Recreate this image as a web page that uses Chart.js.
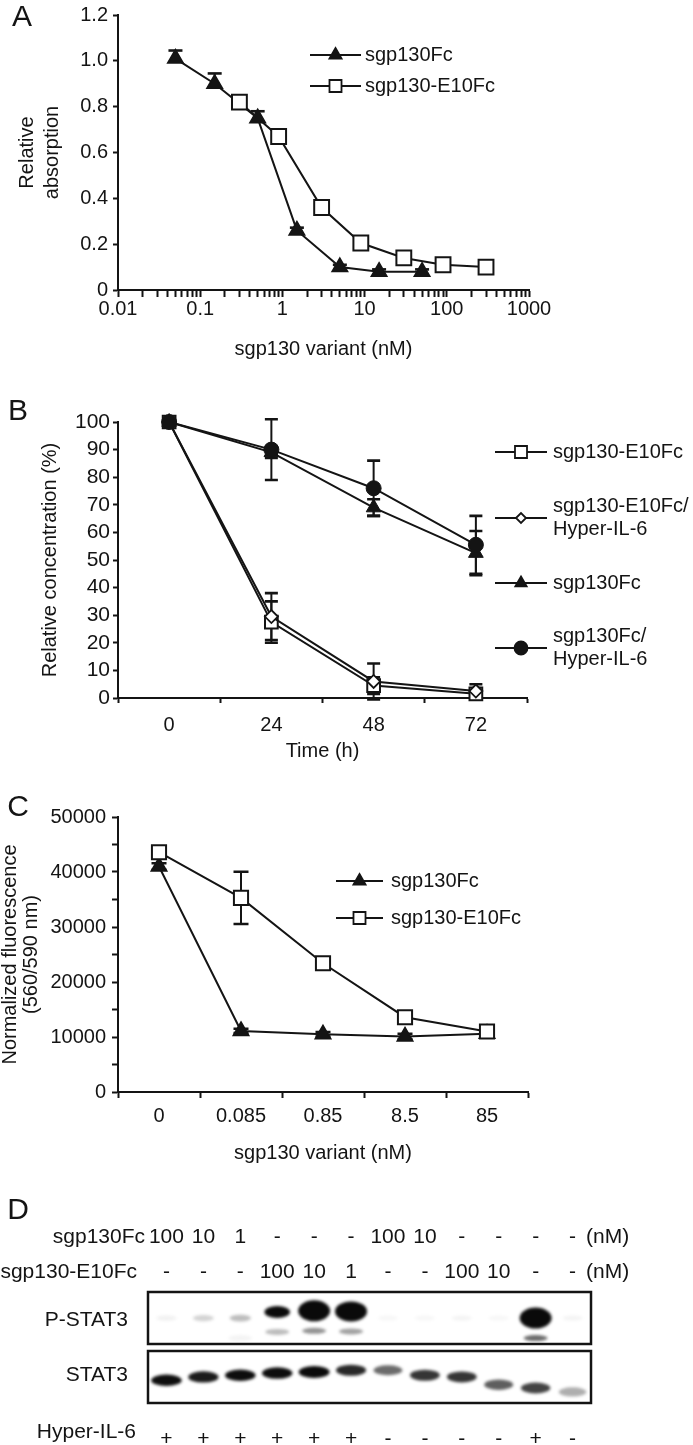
<!DOCTYPE html>
<html>
<head>
<meta charset="utf-8">
<title>sgp130 figure</title>
<script src="https://cdn.jsdelivr.net/npm/chart.js@4.4.1/dist/chart.umd.min.js"></script>
<style>
  html, body { margin: 0; padding: 0; background: #ffffff; }
  #page { position: relative; width: 693px; height: 1445px; overflow: hidden; background: #fff; }
  #page canvas { position: absolute; left: 0; }
</style>
</head>
<body>
<div id="page">
  <canvas id="chartA" width="693" height="380" style="top:0px;width:693px;height:380px"></canvas>
  <canvas id="chartB" width="693" height="400" style="top:380px;width:693px;height:400px"></canvas>
  <canvas id="chartC" width="693" height="400" style="top:780px;width:693px;height:400px"></canvas>
  <canvas id="chartD" width="693" height="265" style="top:1180px;width:693px;height:265px"></canvas>
</div>
<script>
// ================= DATA =================
// Panel A
const aSeriesNames = ['sgp130Fc', 'sgp130-E10Fc'];
const aFcX = [0.05, 0.15, 0.5, 1.5, 5, 15, 50];
const aFcY = [1.01, 0.90, 0.75, 0.26, 0.10, 0.08, 0.08];
const aFcErr = [0.035, 0.045, 0.03, 0.012, 0.01, 0.01, 0.01];
const aE10X = [0.3, 0.9, 3, 9, 30, 90, 300];
const aE10Y = [0.82, 0.67, 0.36, 0.205, 0.14, 0.11, 0.10];
const aE10Err = [0, 0, 0, 0, 0, 0, 0];
const aXTickValues = [0.01, 0.1, 1, 10, 100, 1000];
const aXTickLabels = ['0.01', '0.1', '1', '10', '100', '1000'];
const aYTickLabels = ['0', '0.2', '0.4', '0.6', '0.8', '1.0', '1.2'];
const aXTitle = 'sgp130 variant (nM)';
const aYTitle = ['Relative', 'absorption'];

// Panel B
const bTimes = ['0', '24', '48', '72'];
const bLegend = [['sgp130-E10Fc'], ['sgp130-E10Fc/', 'Hyper-IL-6'], ['sgp130Fc'], ['sgp130Fc/', 'Hyper-IL-6']];
const bE10 = [100, 27.5, 4.5, 1.5];
const bE10Err = [0, 7.5, 3, 1.5];
const bE10H = [100, 29.5, 6, 2.5];
const bE10HErr = [0, 8.5, 6.5, 2.5];
const bFc = [100, 89, 69, 52.5];
const bFcErr = [0, 2, 3, 8];
const bFcH = [100, 90, 76, 55.5];
const bFcHErr = [0, 11, 10, 10.5];
const bYTickLabels = ['0', '10', '20', '30', '40', '50', '60', '70', '80', '90', '100'];
const bXTitle = 'Time (h)';
const bYTitle = 'Relative concentration (%)';

// Panel C
const cDoses = ['0', '0.085', '0.85', '8.5', '85'];
const cSeriesNames = ['sgp130Fc', 'sgp130-E10Fc'];
const cFc = [41000, 11100, 10500, 10100, 10600];
const cFcErr = [600, 400, 400, 500, 300];
const cE10 = [43600, 35300, 23400, 13600, 11000];
const cE10Err = [500, 4750, 600, 500, 400];
const cYTickLabels = ['0', '10000', '20000', '30000', '40000', '50000'];
const cXTitle = 'sgp130 variant (nM)';
const cYTitle = ['Normalized fluorescence', '(560/590 nm)'];

// Panel D (western blot)
const dRowNames = ['sgp130Fc', 'sgp130-E10Fc', 'Hyper-IL-6'];
const dUnit = '(nM)';
const dFcDose  = ['100', '10', '1', '-', '-', '-', '100', '10', '-', '-', '-', '-'];
const dE10Dose = ['-', '-', '-', '100', '10', '1', '-', '-', '100', '10', '-', '-'];
const dHyper   = ['+', '+', '+', '+', '+', '+', '-', '-', '-', '-', '+', '-'];
const dBlots = ['P-STAT3', 'STAT3'];
const pStat3      = [0.04, 0.12, 0.18, 0.7, 1.6, 1.5, 0.02, 0.02, 0.03, 0.02, 1.6, 0.03];
const pStat3Lower = [0, 0, 0.04, 0.25, 0.4, 0.35, 0, 0, 0, 0, 0.55, 0];
const pStat3Shift = [-0.03, -0.03, -0.03, -0.14, -0.16, -0.15, -0.03, -0.03, -0.03, -0.03, -0.03, -0.03];
const stat3       = [0.9, 0.85, 0.9, 0.9, 1.0, 0.8, 0.55, 0.75, 0.75, 0.6, 0.7, 0.3];
const stat3Shift  = [0.09, 0.03, 0, -0.04, -0.06, -0.09, -0.09, 0, 0.03, 0.17, 0.23, 0.3];

// ================= STYLE / HELPERS =================
const FONT = '"Liberation Sans", Arial, Helvetica, sans-serif';
const INK = '#141414';
Chart.defaults.font.family = FONT;
Chart.defaults.font.size = 20;
Chart.defaults.color = INK;

function fitTo(size, horiz) {
  return (s) => {
    if (horiz) s.height = size; else s.width = size;
    s.paddingLeft = 0; s.paddingRight = 0; s.paddingTop = 0; s.paddingBottom = 0;
  };
}
function layoutFor(top, h, area, yw, xh) {
  return { autoPadding: false, padding: { left: area.l - yw, top: area.t - top, right: 693 - area.r, bottom: top + h - area.b - xh } };
}
function marker(ctx, style, x, y, r, fill, stroke, lw) {
  ctx.beginPath();
  if (style === 'triangle') {
    let a = 0;
    ctx.moveTo(x + Math.sin(a) * r, y - Math.cos(a) * r);
    a += 2 * Math.PI / 3; ctx.lineTo(x + Math.sin(a) * r, y - Math.cos(a) * r);
    a += 2 * Math.PI / 3; ctx.lineTo(x + Math.sin(a) * r, y - Math.cos(a) * r);
    ctx.closePath();
  } else if (style === 'rect') {
    const s = Math.SQRT1_2 * r; ctx.rect(x - s, y - s, 2 * s, 2 * s);
  } else if (style === 'rectRot') {
    ctx.moveTo(x - r, y); ctx.lineTo(x, y - r); ctx.lineTo(x + r, y); ctx.lineTo(x, y + r); ctx.closePath();
  } else {
    ctx.arc(x, y, r, 0, Math.PI * 2);
  }
  ctx.fillStyle = fill; ctx.fill();
  ctx.lineWidth = lw; ctx.strokeStyle = stroke; ctx.stroke();
}

const errorBars = {
  id: 'errorBars',
  beforeDatasetsDraw(chart, _a, o) {
    const ctx = chart.ctx;
    const cap = (o && o.cap) || 14;
    chart.data.datasets.forEach((ds, di) => {
      if (!ds.errors) return;
      const meta = chart.getDatasetMeta(di);
      const ys = chart.scales[meta.yAxisID];
      meta.data.forEach((pt, i) => {
        const e = ds.errors[i];
        if (!e) return;
        const raw = ds.data[i];
        const v = (typeof raw === 'object') ? raw.y : raw;
        const x = pt.x;
        const top = ys.getPixelForValue(v + e);
        const both = ds.errDir !== 'up';
        const bot = both ? ys.getPixelForValue(v - e) : pt.y;
        ctx.save();
        ctx.strokeStyle = INK; ctx.lineWidth = 2;
        ctx.beginPath(); ctx.moveTo(x, top); ctx.lineTo(x, bot); ctx.stroke();
        ctx.lineWidth = 2.6;
        ctx.beginPath(); ctx.moveTo(x - cap / 2, top); ctx.lineTo(x + cap / 2, top);
        if (both) { ctx.moveTo(x - cap / 2, bot); ctx.lineTo(x + cap / 2, bot); }
        ctx.stroke();
        ctx.restore();
      });
    });
  }
};

const lineLegend = {
  id: 'lineLegend',
  afterDraw(chart, _a, o) {
    if (!o || !o.rows) return;
    const ctx = chart.ctx;
    ctx.save();
    ctx.font = (o.size || 20) + 'px ' + FONT;
    ctx.textBaseline = 'middle'; ctx.textAlign = 'left';
    o.rows.forEach(row => {
      const ds = chart.data.datasets[row.ds];
      ctx.strokeStyle = INK; ctx.lineWidth = 2;
      ctx.beginPath(); ctx.moveTo(o.x0, row.y); ctx.lineTo(o.x1, row.y); ctx.stroke();
      marker(ctx, ds.pointStyle, (o.x0 + o.x1) / 2, row.y, row.r, ds.pointBackgroundColor, ds.pointBorderColor, 1.8);
      const lines = row.text;
      const lh = o.lh || 23;
      ctx.fillStyle = INK;
      lines.forEach((t, i) => ctx.fillText(t, o.tx, row.y + (i - (lines.length - 1) / 2) * lh));
    });
    ctx.restore();
  }
};

const panelLabel = {
  id: 'panelLabel',
  afterDraw(chart, _a, o) {
    if (!o || !o.text) return;
    const ctx = chart.ctx;
    ctx.save();
    ctx.font = (o.size || 30) + 'px ' + FONT;
    ctx.fillStyle = INK; ctx.textAlign = 'center'; ctx.textBaseline = 'middle';
    ctx.fillText(o.text, o.x, o.y);
    ctx.restore();
  }
};

function band(ctx, cx, cy, w, h, alpha) {
  if (alpha <= 0.005) return;
  ctx.fillStyle = 'rgba(10,10,10,' + Math.min(1, alpha) + ')';
  ctx.beginPath(); ctx.ellipse(cx, cy, w / 2, h / 2, 0, 0, Math.PI * 2); ctx.fill();
}

const blot = {
  id: 'blot',
  afterDraw(chart, _a, o) {
    if (!o || !o.on) return;
    const { ctx, chartArea: ca, scales: { x, y } } = chart;
    const rowH = (ca.bottom - ca.top) / 2;
    const mid = (ca.top + ca.bottom) / 2;
    const boxes = [[ca.top, mid - 3.5], [mid + 3.5, ca.bottom]];
    boxes.forEach(([t, b], r) => {
      ctx.save();
      ctx.beginPath(); ctx.rect(ca.left, t, ca.right - ca.left, b - t); ctx.clip();
      ctx.filter = 'blur(1.6px)';
      for (let i = 0; i < dHyper.length; i++) {
        const cx = x.getPixelForValue(i);
        if (r === 0) {
          const s = pStat3[i];
          const cy = y.getPixelForValue(0) + pStat3Shift[i] * rowH;
          band(ctx, cx, cy, 20 + 8 * Math.min(s, 1.5), 5 + 10 * Math.min(s, 1.6), s * 1.5);
          const s2 = pStat3Lower[i];
          band(ctx, cx, cy + 0.36 * rowH, 24, 6, s2 * 1.1);
        } else {
          const s = stat3[i];
          const cy = y.getPixelForValue(1) + stat3Shift[i] * rowH;
          band(ctx, cx, cy, 26 + 5 * s, 8 + 4 * s, s * 1.1);
        }
      }
      ctx.restore();
      ctx.save();
      ctx.lineWidth = 2.5; ctx.strokeStyle = INK;
      ctx.strokeRect(ca.left, t, ca.right - ca.left, b - t);
      ctx.restore();
    });
    // treatment rows
    ctx.save();
    ctx.font = '21px ' + FONT; ctx.fillStyle = INK; ctx.textBaseline = 'middle';
    ctx.textAlign = 'right';
    ctx.fillText(dRowNames[0], 145, 57);
    ctx.fillText(dRowNames[1], 137, 92);
    ctx.fillText(dRowNames[2], 136, 252);
    ctx.textAlign = 'center';
    dFcDose.forEach((t, i) => ctx.fillText(t, x.getPixelForValue(i), 57));
    dE10Dose.forEach((t, i) => ctx.fillText(t, x.getPixelForValue(i), 92));
    ctx.textAlign = 'left';
    ctx.fillText(dUnit, 586, 57);
    ctx.fillText(dUnit, 586, 92);
    ctx.restore();
  }
};

Chart.register(errorBars, lineLegend, panelLabel, blot);

const common = { responsive: false, maintainAspectRatio: false, animation: false, events: [] };
function tickGrid(len) {
  return { drawOnChartArea: false, drawTicks: true, tickLength: len, tickColor: INK, tickWidth: 2 };
}
const border = { display: true, color: INK, width: 2 };

// ================= PANEL A =================
const aMinor = [];
for (let d = 0; d < aXTickValues.length - 1; d++) {
  for (let k = 1; k <= 9; k++) aMinor.push(aXTickValues[d] * k);
}
aMinor.push(aXTickValues[aXTickValues.length - 1]);

new Chart(document.getElementById('chartA'), {
  type: 'line',
  data: {
    datasets: [
      { label: aSeriesNames[1], data: aE10X.map((x, i) => ({ x, y: aE10Y[i] })), errors: aE10Err, errDir: 'up',
        pointStyle: 'rect', pointRadius: 10.5, pointBackgroundColor: '#fff', pointBorderColor: INK, pointBorderWidth: 2,
        borderColor: INK, borderWidth: 2, clip: false },
      { label: aSeriesNames[0], data: aFcX.map((x, i) => ({ x, y: aFcY[i] })), errors: aFcErr, errDir: 'up',
        pointStyle: 'triangle', pointRadius: 9, pointBackgroundColor: INK, pointBorderColor: INK, pointBorderWidth: 1.5,
        borderColor: INK, borderWidth: 2, clip: false }
    ]
  },
  options: Object.assign({}, common, {
    layout: layoutFor(0, 380, { l: 118, t: 15, r: 529, b: 290 }, 118, 71),
    plugins: {
      legend: { display: false }, tooltip: { enabled: false },
      errorBars: { cap: 14 },
      panelLabel: { text: 'A', x: 22, y: 18 },
      lineLegend: { x0: 310, x1: 361, tx: 365, rows: [
        { ds: 1, y: 55, r: 7, text: [aSeriesNames[0]] },
        { ds: 0, y: 86, r: 8.5, text: [aSeriesNames[1]] }
      ] }
    },
    scales: {
      x: {
        type: 'logarithmic', min: 0.01, max: 1000,
        afterFit: fitTo(71, true),
        afterBuildTicks: (s) => { s.ticks = aMinor.map(v => ({ value: v })); },
        grid: tickGrid(7), border: border,
        ticks: { autoSkip: false, maxRotation: 0, minRotation: 0, padding: 0, color: INK,
          callback: (v) => { const i = aXTickValues.findIndex(t => Math.abs(t - v) < t * 1e-6); return i >= 0 ? aXTickLabels[i] : ''; } },
        title: { display: true, text: aXTitle, padding: 0, color: INK, font: { size: 20, lineHeight: 1.2 } }
      },
      y: {
        min: 0, max: 1.2,
        afterFit: fitTo(118, false),
        grid: tickGrid(5), border: border,
        ticks: { stepSize: 0.2, autoSkip: false, padding: 5, color: INK, callback: (v) => aYTickLabels[Math.round(v / 0.2)] },
        title: { display: true, text: aYTitle, padding: { top: 14.5, bottom: 0 }, color: INK, font: { size: 20, lineHeight: 1.25 } }
      }
    }
  })
});

// ================= PANEL B =================
new Chart(document.getElementById('chartB'), {
  type: 'line',
  data: {
    labels: bTimes,
    datasets: [
      { label: bLegend[3].join(' '), data: bFcH, errors: bFcHErr, errDir: 'both',
        pointStyle: 'circle', pointRadius: 7.5, pointBackgroundColor: INK, pointBorderColor: INK, pointBorderWidth: 1,
        borderColor: INK, borderWidth: 2, clip: false },
      { label: bLegend[2].join(' '), data: bFc, errors: bFcErr, errDir: 'both',
        pointStyle: 'triangle', pointRadius: 8.5, pointBackgroundColor: INK, pointBorderColor: INK, pointBorderWidth: 1,
        borderColor: INK, borderWidth: 2, clip: false },
      { label: bLegend[1].join(' '), data: bE10H, errors: bE10HErr, errDir: 'both',
        pointStyle: 'rectRot', pointRadius: 6.5, pointBackgroundColor: '#fff', pointBorderColor: INK, pointBorderWidth: 1.8,
        borderColor: INK, borderWidth: 2, clip: false },
      { label: bLegend[0].join(' '), data: bE10, errors: bE10Err, errDir: 'both',
        pointStyle: 'rect', pointRadius: 9, pointBackgroundColor: '#fff', pointBorderColor: INK, pointBorderWidth: 2,
        borderColor: INK, borderWidth: 2, clip: false }
    ]
  },
  options: Object.assign({}, common, {
    layout: layoutFor(380, 400, { l: 118, t: 422, r: 527, b: 698 }, 118, 65),
    plugins: {
      legend: { display: false }, tooltip: { enabled: false },
      errorBars: { cap: 13 },
      panelLabel: { text: 'B', x: 18, y: 32 },
      lineLegend: { x0: 495, x1: 547, tx: 553, lh: 23, rows: [
        { ds: 3, y: 452 - 380, r: 8.5, text: bLegend[0] },
        { ds: 2, y: 518 - 380, r: 5, text: bLegend[1] },
        { ds: 1, y: 583 - 380, r: 6.5, text: bLegend[2] },
        { ds: 0, y: 648 - 380, r: 6.5, text: bLegend[3] }
      ] }
    },
    scales: {
      x: {
        type: 'category', offset: true,
        afterFit: fitTo(65, true),
        grid: Object.assign(tickGrid(5), { offset: true }), border: border,
        ticks: { padding: 10, color: INK, maxRotation: 0, autoSkip: false },
        title: { display: true, text: bXTitle, padding: 0, color: INK, font: { size: 20, lineHeight: 1.2 } }
      },
      y: {
        min: 0, max: 100,
        afterFit: fitTo(118, false),
        grid: tickGrid(5), border: border,
        ticks: { stepSize: 10, autoSkip: false, padding: 3, color: INK, font: { size: 21 }, callback: (v) => bYTickLabels[Math.round(v / 10)] },
        title: { display: true, text: bYTitle, padding: { top: 38, bottom: 0 }, color: INK, font: { size: 20, lineHeight: 1.2 } }
      }
    }
  })
});

// ================= PANEL C =================
new Chart(document.getElementById('chartC'), {
  type: 'line',
  data: {
    labels: cDoses,
    datasets: [
      { label: cSeriesNames[1], data: cE10, errors: cE10Err, errDir: 'both',
        pointStyle: 'rect', pointRadius: 10, pointBackgroundColor: '#fff', pointBorderColor: INK, pointBorderWidth: 2,
        borderColor: INK, borderWidth: 2, clip: false },
      { label: cSeriesNames[0], data: cFc, errors: cFcErr, errDir: 'both',
        pointStyle: 'triangle', pointRadius: 9, pointBackgroundColor: INK, pointBorderColor: INK, pointBorderWidth: 1.5,
        borderColor: INK, borderWidth: 2, clip: false }
    ]
  },
  options: Object.assign({}, common, {
    layout: layoutFor(780, 400, { l: 118, t: 817, r: 528, b: 1092 }, 118, 73),
    plugins: {
      legend: { display: false }, tooltip: { enabled: false },
      errorBars: { cap: 15 },
      panelLabel: { text: 'C', x: 18, y: 28 },
      lineLegend: { x0: 336, x1: 383, tx: 391, rows: [
        { ds: 1, y: 881 - 780, r: 7, text: [cSeriesNames[0]] },
        { ds: 0, y: 918 - 780, r: 8.5, text: [cSeriesNames[1]] }
      ] }
    },
    scales: {
      x: {
        type: 'category', offset: true,
        afterFit: fitTo(73, true),
        grid: Object.assign(tickGrid(6), { offset: true }), border: border,
        ticks: { padding: 6, color: INK, maxRotation: 0, autoSkip: false },
        title: { display: true, text: cXTitle, padding: 0, color: INK, font: { size: 20, lineHeight: 1.2 } }
      },
      y: {
        min: 0, max: 50000,
        afterFit: fitTo(118, false),
        grid: tickGrid(6), border: border,
        ticks: { stepSize: 5000, autoSkip: false, padding: 6, color: INK,
          callback: (v) => (Math.round(v) % 10000 === 0 ? cYTickLabels[Math.round(v / 10000)] : '') },
        title: { display: true, text: cYTitle, padding: { top: 0, bottom: 0 }, color: INK, font: { size: 20, lineHeight: 1.05 } }
      }
    }
  })
});

// ================= PANEL D =================
new Chart(document.getElementById('chartD'), {
  type: 'scatter',
  data: { datasets: [] },
  options: Object.assign({}, common, {
    layout: layoutFor(1180, 265, { l: 148, t: 1292, r: 591, b: 1403 }, 148, 40),
    plugins: {
      legend: { display: false }, tooltip: { enabled: false },
      panelLabel: { text: 'D', x: 18, y: 31 },
      blot: { on: true }
    },
    scales: {
      x: {
        type: 'category', labels: dHyper, offset: true, position: 'bottom',
        min: 0, max: dHyper.length - 1,
        afterFit: fitTo(40, true),
        grid: { display: false }, border: { display: false },
        ticks: { padding: 16, color: INK, font: { size: 21 }, autoSkip: false, maxRotation: 0 }
      },
      y: {
        type: 'category', labels: dBlots, offset: true,
        min: 0, max: dBlots.length - 1,
        afterFit: fitTo(148, false),
        grid: { display: false }, border: { display: false },
        ticks: { padding: 12, color: INK, font: { size: 21 } }
      }
    }
  })
});
</script>
</body>
</html>
